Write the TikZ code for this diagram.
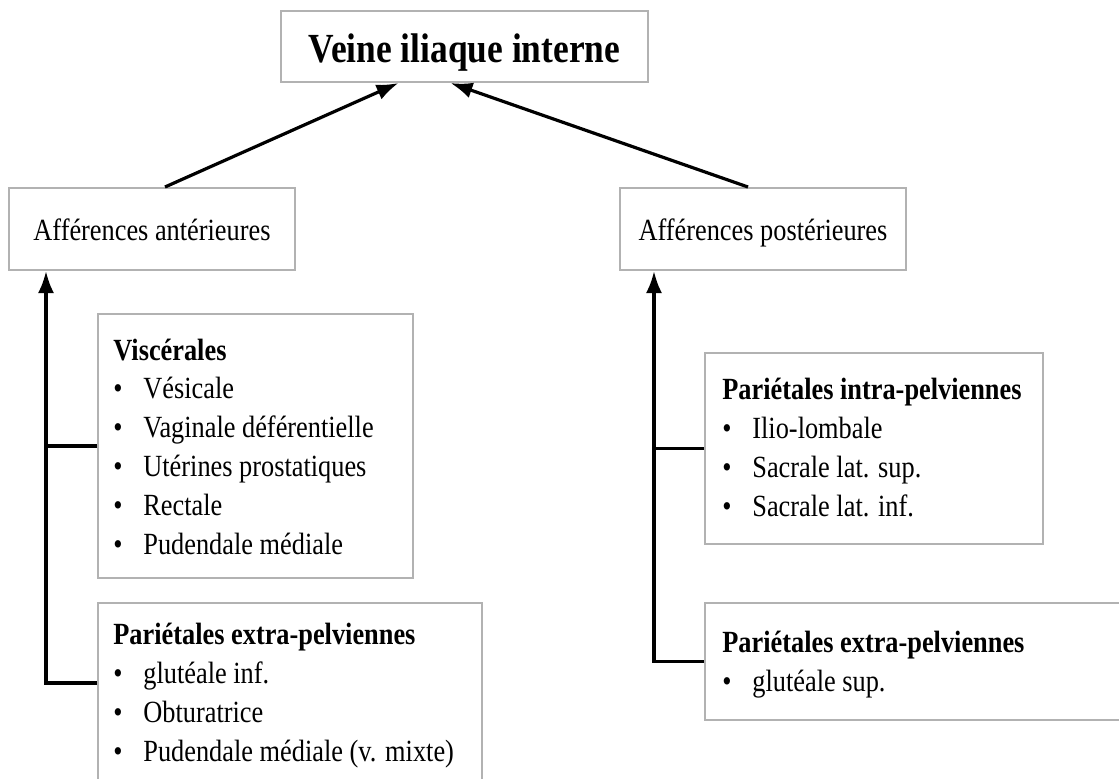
\documentclass[tikz,border=0pt]{standalone}
\usepackage{fontspec}
\setmainfont[FakeStretch=0.855]{Liberation Serif}
\usetikzlibrary{arrows.meta}
\tikzstyle{cadre}=[draw=black!30,line width=1pt,rectangle,inner sep=0pt]
\tikzstyle{lien}=[line width=1.6pt,black]
\tikzstyle{fleche}=[lien,-{Latex[length=11pt,width=8pt]}]
\tikzstyle{liste}=[inner sep=0pt,align=left,anchor=base west,font=\fontsize{15.4}{19.4}\selectfont]
\tikzstyle{afference}=[cadre,minimum width=143pt,minimum height=41pt,text height=14pt,text depth=3pt,font=\fontsize{15.4}{19}\selectfont]
\newcommand{\puce}[1]{\makebox[15pt][l]{\textbullet}#1}

\begin{document}
\begin{tikzpicture}[x=0.5pt,y=-0.5pt]
	\useasboundingbox (0,0) rectangle (1119,778);
	\clip (0,0) rectangle (1119,778);
	% boites
	\node[cadre,minimum width=183.5pt,minimum height=35.5pt,text height=19pt,text depth=3.5pt,font=\fontsize{20.7}{24}\selectfont\bfseries] (veine) at (464.5,46.5) {Veine iliaque interne};
	\node[afference] (ant) at (152,229) {Afférences antérieures};
	\node[afference] (post) at (763,229) {Afférences postérieures};
	\node[cadre,anchor=north west,minimum width=157.5pt,minimum height=132pt] (visc) at (97,313) {};
	\node[cadre,anchor=north west,minimum width=192pt,minimum height=100pt] (extA) at (97,602) {};
	\node[cadre,anchor=north west,minimum width=169pt,minimum height=95.5pt] (intP) at (704,352) {};
	\node[cadre,anchor=north west,minimum width=213pt,minimum height=58.5pt] (extP) at (704,602) {};

	% listes (ancre sur la derniere ligne)
	\node[liste] (visc-t) at ([shift={(16,241)}]visc.north west) {\textbf{Viscérales}\\\puce{Vésicale}\\\puce{Vaginale déférentielle}\\\puce{Utérines prostatiques}\\\puce{Rectale}\\\puce{Pudendale médiale}};
	\node[liste] (extA-t) at ([shift={(16,159)}]extA.north west) {\textbf{Pariétales extra-pelviennes}\\\puce{glutéale inf.}\\\puce{Obturatrice}\\\puce{Pudendale médiale (v. mixte)}};
	\node[liste] (intP-t) at ([shift={(18,164)}]intP.north west) {\textbf{Pariétales intra-pelviennes}\\\puce{Ilio-lombale}\\\puce{Sacrale lat. sup.}\\\puce{Sacrale lat. inf.}};
	\node[liste] (extP-t) at ([shift={(18,89)}]extP.north west) {\textbf{Pariétales extra-pelviennes}\\\puce{glutéale sup.}};

	% liens
	\coordinate (pA) at ([shift={(38,0)}]ant.south west);
	\coordinate (pP) at ([shift={(35,0)}]post.south west);
	\coordinate (bA) at ([shift={(0,81)}]extA.north west);
	\draw[fleche] (bA) -| (pA);
	\draw[lien] (visc.west) -- (visc.west -| pA);
	\draw[fleche] (extP.west) -| (pP);
	\draw[lien] (intP.west) -- (intP.west -| pP);
	\draw[fleche] ([shift={(13,0)}]ant.north) -- ([shift={(-66,0)}]veine.south);
	\draw[fleche] ([shift={(-15,0)}]post.north) -- ([shift={(-14,0)}]veine.south);
\end{tikzpicture}
\end{document}
